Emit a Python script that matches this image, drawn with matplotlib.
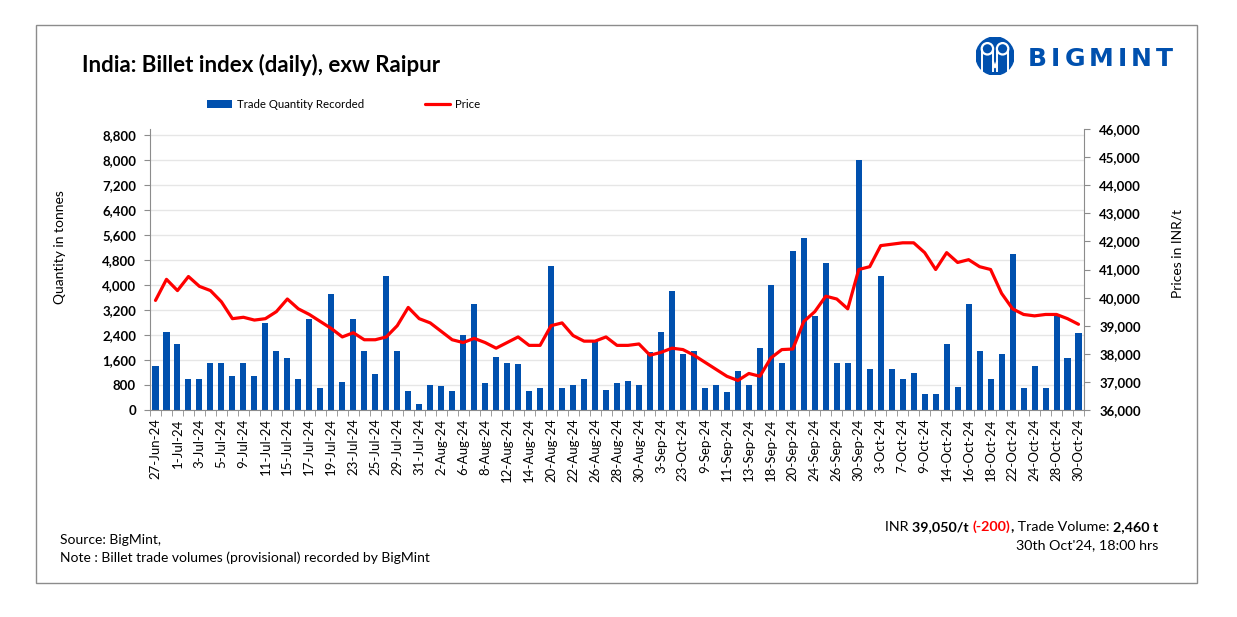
import numpy as np
import matplotlib
matplotlib.use("Agg")
import matplotlib.pyplot as plt
from matplotlib.patches import Rectangle, Circle
from matplotlib.ticker import FuncFormatter, FixedLocator

plt.rcParams['font.family'] = ['Lato', 'DejaVu Sans']

# ---- data (85 trading days, 27-Jun-24 .. 30-Oct-24) ----
qty = [1400, 2500, 2100, 1000, 1000, 1500, 1500, 1100, 1500, 1100,
       2800, 1900, 1650, 1000, 2900, 700, 3700, 900, 2900, 1900,
       1150, 4300, 1900, 600, 200, 800, 780, 600, 2400, 3400,
       850, 1700, 1500, 1480, 600, 700, 4600, 700, 800, 1000,
       2250, 650, 850, 920, 800, 1850, 2500, 3800, 1800, 1900,
       700, 800, 580, 1250, 800, 2000, 4000, 1500, 5100, 5500,
       3000, 4700, 1500, 1520, 8000, 1300, 4300, 1300, 1000, 1200,
       500, 500, 2100, 750, 3400, 1900, 1000, 1800, 5000, 700,
       1400, 700, 3050, 1650, 2460]

price = [39900, 40650, 40250, 40750, 40400, 40250, 39850, 39250, 39300, 39200,
         39250, 39500, 39950, 39600, 39400, 39150, 38900, 38600, 38750, 38500,
         38500, 38600, 39000, 39650, 39250, 39100, 38800, 38500, 38400, 38550,
         38400, 38200, 38400, 38600, 38300, 38300, 39000, 39100, 38650, 38450,
         38450, 38600, 38300, 38300, 38350, 37950, 38050, 38200, 38150, 37950,
         37700, 37450, 37200, 37050, 37300, 37200, 37850, 38150, 38170, 39150,
         39500, 40050, 39950, 39600, 41000, 41100, 41850, 41900, 41950, 41950,
         41600, 41000, 41600, 41250, 41350, 41100, 41000, 40150, 39600, 39400,
         39350, 39400, 39400, 39250, 39050]

# every second day is labelled on the axis (as printed, incl. the odd "23-Oct-24")
tick_labels = ['27-Jun-24', '1-Jul-24', '3-Jul-24', '5-Jul-24', '9-Jul-24',
               '11-Jul-24', '15-Jul-24', '17-Jul-24', '19-Jul-24', '23-Jul-24',
               '25-Jul-24', '29-Jul-24', '31-Jul-24', '2-Aug-24', '6-Aug-24',
               '8-Aug-24', '12-Aug-24', '14-Aug-24', '20-Aug-24', '22-Aug-24',
               '26-Aug-24', '28-Aug-24', '30-Aug-24', '3-Sep-24', '23-Oct-24',
               '9-Sep-24', '11-Sep-24', '13-Sep-24', '18-Sep-24', '20-Sep-24',
               '24-Sep-24', '26-Sep-24', '30-Sep-24', '3-Oct-24', '7-Oct-24',
               '9-Oct-24', '14-Oct-24', '16-Oct-24', '18-Oct-24', '22-Oct-24',
               '24-Oct-24', '28-Oct-24', '30-Oct-24']

BLUE = '#0050AE'
RED = '#FF0000'
GREY = '#8C8C8C'
W, H = 1237, 617

fig = plt.figure(figsize=(W / 100, H / 100), dpi=100)
fig.patch.set_facecolor('white')

ax = fig.add_axes([150 / W, 1 - 410 / H, 934 / W, 281 / H])
ax2 = ax.twinx()

x = np.arange(len(qty))
ax.bar(x, qty, width=0.55, color=BLUE, zorder=2, label='Trade Quantity Recorded')
ax2.plot(x, price, color=RED, lw=2.3, solid_joinstyle='round',
         solid_capstyle='round', label='Price')

ax.set_xlim(-0.5, len(qty) - 0.5)
ax.set_ylim(0, 9000)
ax.set_yticks(np.arange(0, 8801, 800))
ax2.set_ylim(36000, 46000)
ax2.set_yticks(np.arange(36000, 46001, 1000))

comma = FuncFormatter(lambda v, p: f'{int(v):,}')
ax.yaxis.set_major_formatter(comma)
ax2.yaxis.set_major_formatter(comma)

ax.yaxis.grid(True, color='#E6E6E6', lw=1)
ax.set_axisbelow(True)

ax.set_xticks(x[::2])
ax.set_xticklabels(tick_labels, rotation=90, fontsize=9.5)
ax.xaxis.set_minor_locator(FixedLocator(np.arange(-0.5, len(qty), 1)))
ax.tick_params(axis='x', which='major', length=0, pad=6)
ax.tick_params(axis='x', which='minor', length=4, color=GREY)

for a in (ax, ax2):
    a.spines['top'].set_visible(False)
ax2.spines['left'].set_visible(False)
ax2.spines['bottom'].set_visible(False)
ax.spines['right'].set_visible(False)
for s in ('left', 'bottom'):
    ax.spines[s].set_color(GREY)
ax2.spines['right'].set_color(GREY)

ax.tick_params(axis='y', length=4, color=GREY, pad=6, labelsize=9.5)
ax2.tick_params(axis='y', length=4, color=GREY, pad=7, labelsize=9.5)
for lab in ax.get_yticklabels() + ax2.get_yticklabels():
    lab.set_fontweight('bold')

fig.text(60 / W, 1 - 247 / H, 'Quantity in tonnes', rotation=90,
         ha='center', va='center', fontsize=10)
fig.text(1177 / W, 1 - 253 / H, 'Prices in INR/t', rotation=90,
         ha='center', va='center', fontsize=10)

# title
fig.text(82 / W, 1 - 65 / H, 'India: Billet index (daily), exw Raipur',
         ha='left', va='center', fontsize=16, fontweight='bold')

# legend
h1, l1 = ax.get_legend_handles_labels()
h2, l2 = ax2.get_legend_handles_labels()
fig.legend(h1 + h2, l1 + l2, loc='center left', ncol=2,
           bbox_to_anchor=(207 / W, 1 - 104 / H), bbox_transform=fig.transFigure,
           frameon=False, fontsize=8.2, borderpad=0, borderaxespad=0,
           handlelength=2.2, handletextpad=0.45, columnspacing=5.3)

# frame around the whole graphic
fig.patches.append(Rectangle((36 / W, 1 - 583 / H), (1197 - 36) / W, (583 - 25) / H,
                             transform=fig.transFigure, fill=False,
                             ec=GREY, lw=1))

# footnotes
fig.text(60 / W, 1 - 540 / H, 'Source: BigMint,', fontsize=10, va='center')
fig.text(60 / W, 1 - 558 / H,
         'Note : Billet trade volumes (provisional) recorded by BigMint',
         fontsize=10, va='center')

# latest-value line, built right to left so the block ends at the right margin
pieces = [('INR ', 'normal', 'black'), ('39,050/t ', 'bold', 'black'),
          ('(-200)', 'bold', RED), (',', 'bold', 'black'),
          (' Trade Volume: ', 'normal', 'black'), ('2,460 t', 'bold', 'black')]
prev = None
for txt, wt, col in reversed(pieces):
    if prev is None:
        prev = ax.annotate(txt, xy=(1158 / W, 1 - 533 / H), xycoords='figure fraction',
                           ha='right', va='bottom', fontsize=10.3, fontweight=wt,
                           color=col, annotation_clip=False)
    else:
        prev = ax.annotate(txt, xy=(0, 0), xycoords=prev, ha='right', va='bottom',
                           fontsize=10.3, fontweight=wt, color=col,
                           annotation_clip=False)
fig.text(1158 / W, 1 - 545 / H, "30th Oct'24, 18:00 hrs", ha='right',
         va='center', fontsize=10.3)

# BigMint logo
lax = fig.add_axes([976 / W, 1 - 75 / H, 38 / W, 38 / H])
lax.set_xlim(-1, 1); lax.set_ylim(-1, 1); lax.set_aspect('equal'); lax.axis('off')
lax.add_patch(Circle((0, 0), 1, color=BLUE))
for cx in (-0.4, 0.4):
    lax.add_patch(Circle((cx, 0.38), 0.3, fc=BLUE, ec='white', lw=1.6))
    lax.plot([cx - 0.3, cx - 0.3], [0.3, -0.8], color='white', lw=1.4)
    lax.plot([cx + 0.3, cx + 0.3], [0.3, -0.8], color='white', lw=1.4)
lax.plot([-0.1, 0, 0.1], [-0.3, -0.6, -0.3], color='white', lw=1.4)

# logo wordmark: letters spread evenly between x=1028 and x=1173
letters = [fig.text(0, 1 - 59 / H, ch, ha='left', va='center', color=BLUE,
                    fontsize=18, fontweight='bold', family='DejaVu Sans')
           for ch in 'BIGMINT']
rend = fig.canvas.get_renderer()
widths = [t.get_window_extent(rend).width for t in letters]
gap = (1173 - 1028 - sum(widths)) / (len(letters) - 1)
pos = 1028
for t, w in zip(letters, widths):
    t.set_x(pos / W)
    pos += w + gap

fig.savefig('out.png', dpi=100)
